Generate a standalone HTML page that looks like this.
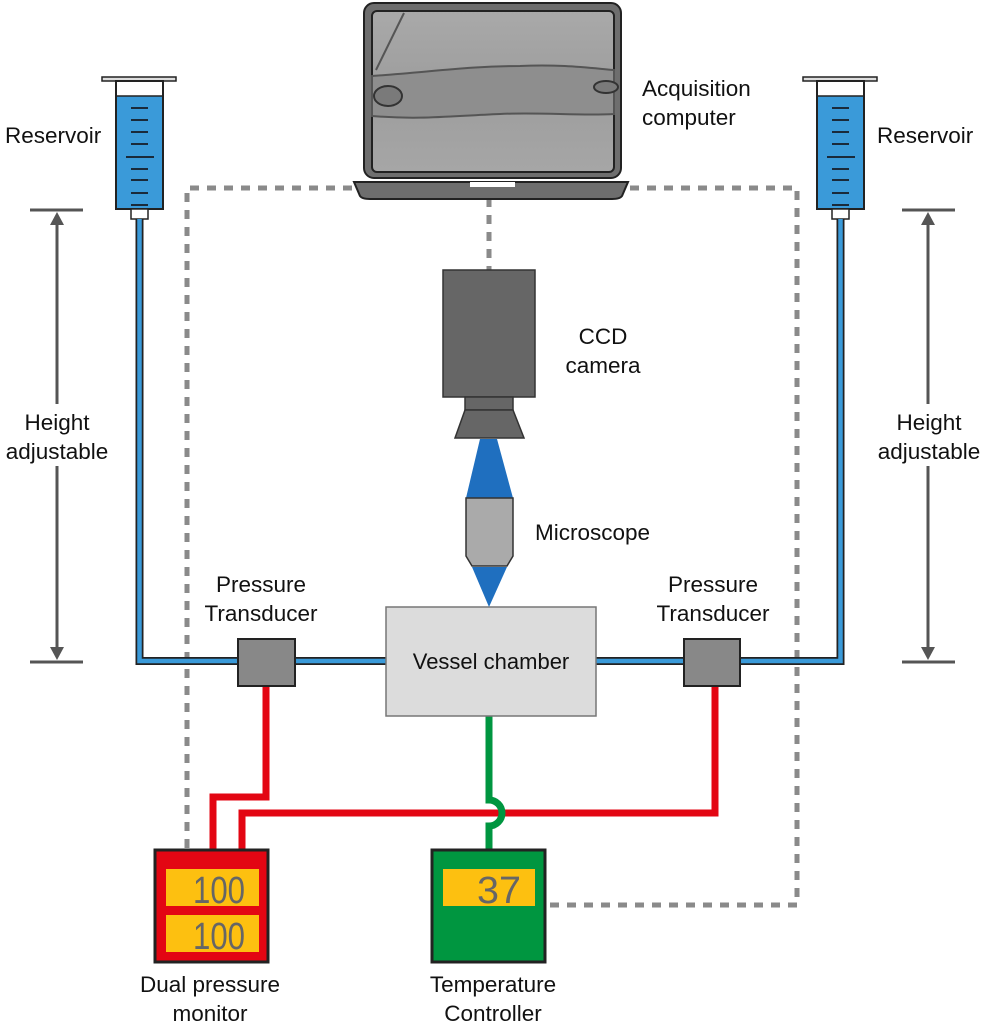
<!DOCTYPE html>
<html><head><meta charset="utf-8"><style>
html,body{margin:0;padding:0;background:#fff;}
svg{display:block;}
text{font-family:"Liberation Sans",sans-serif;fill:#111;}
</style></head><body>
<svg width="984" height="1024" viewBox="0 0 984 1024" xmlns="http://www.w3.org/2000/svg">
<defs>
<linearGradient id="scr" x1="0" y1="0" x2="0" y2="1">
<stop offset="0" stop-color="#a9a9a9"/><stop offset="0.5" stop-color="#9d9d9d"/><stop offset="1" stop-color="#a6a6a6"/>
</linearGradient>
</defs>
<g stroke="#8a8a8a" stroke-width="5" fill="none" stroke-dasharray="9 8">
<path d="M187 848 V188 H352"/>
<path d="M630 188 H797 V905 H545"/>
<path d="M489 198 V270"/>
</g>
<rect x="364" y="3" width="257" height="175" rx="10" fill="#6e6e6e" stroke="#222" stroke-width="2"/>
<rect x="372" y="11" width="242" height="161" rx="5" fill="url(#scr)" stroke="#222" stroke-width="2"/>
<path d="M372 76 C430 72 470 66 520 66 C560 64 590 68 614 70 L614 114 C580 116 540 112 500 114 C450 116 420 120 372 116 Z" fill="#8e8e8e" stroke="#555" stroke-width="2"/>
<path d="M376 70 L404 13" stroke="#555" stroke-width="2" fill="none"/>
<ellipse cx="388" cy="96" rx="14" ry="10" fill="#7a7a7a" stroke="#333" stroke-width="2"/>
<ellipse cx="606" cy="87" rx="12" ry="6" fill="#7a7a7a" stroke="#333" stroke-width="2"/>
<path d="M354 182 H628 L622 196 Q620 199 612 199 H370 Q362 199 360 196 Z" fill="#6e6e6e" stroke="#222" stroke-width="2"/>
<rect x="470" y="182" width="45" height="5" fill="#fff"/>
<g id="res">
<rect x="102" y="77" width="74" height="4" fill="#ddd" stroke="#222" stroke-width="1.5"/>
<rect x="116" y="81" width="47" height="128" fill="#fff" stroke="#222" stroke-width="2"/>
<rect x="117" y="96" width="45" height="112" fill="#3a9ad9"/>
<line x1="116" y1="96" x2="163" y2="96" stroke="#222" stroke-width="1.5"/>
<rect x="131" y="209" width="17" height="10" fill="#fff" stroke="#222" stroke-width="1.5"/>
<g stroke="#1a2a3a" stroke-width="2">
<line x1="131" y1="108" x2="148" y2="108"/><line x1="131" y1="120" x2="148" y2="120"/>
<line x1="131" y1="132" x2="148" y2="132"/><line x1="131" y1="144" x2="148" y2="144"/>
<line x1="126" y1="157" x2="154" y2="157"/><line x1="131" y1="169" x2="148" y2="169"/>
<line x1="131" y1="180" x2="148" y2="180"/><line x1="131" y1="193" x2="148" y2="193"/>
<line x1="131" y1="205" x2="148" y2="205"/>
</g>
</g>
<use href="#res" transform="translate(701,0)"/>
<g fill="none">
<path d="M139.5 219 V661 H238 M295 661 H386" stroke="#222" stroke-width="8"/>
<path d="M139.5 219 V661 H238 M295 661 H386" stroke="#3a9ad9" stroke-width="4.5"/>
<path d="M596 661 H684 M740 661 H840.5 V219" stroke="#222" stroke-width="8"/>
<path d="M596 661 H684 M740 661 H840.5 V219" stroke="#3a9ad9" stroke-width="4.5"/>
</g>
<g stroke="#e30613" stroke-width="7" fill="none">
<path d="M266 686 V797 H213 V850"/>
<path d="M242 850 V813 H715 V686"/>
</g>
<path d="M489 716 V800 A13 13 0 0 1 489 826 V850" stroke="#009640" stroke-width="7" fill="none"/>
<rect x="238" y="639" width="57" height="47" fill="#888" stroke="#222" stroke-width="2"/>
<rect x="684" y="639" width="56" height="47" fill="#888" stroke="#222" stroke-width="2"/>
<rect x="386" y="607" width="210" height="109" fill="#dcdcdc" stroke="#777" stroke-width="1.5"/>
<text x="491" y="669" font-size="22" text-anchor="middle">Vessel chamber</text>
<rect x="443" y="270" width="92" height="127" fill="#666" stroke="#333" stroke-width="1.5"/>
<rect x="465" y="397" width="48" height="13" fill="#666" stroke="#333" stroke-width="1.5"/>
<path d="M465 410 H513 L524 438 H455 Z" fill="#666" stroke="#333" stroke-width="1.5"/>
<path d="M480 439 H497 L513 498 H466 Z" fill="#1f6fbf"/>
<path d="M466 498 H513 V556 L507 566 H472 L466 556 Z" fill="#aaa" stroke="#333" stroke-width="1.5"/>
<path d="M472 567 H507 L489 607 Z" fill="#1f6fbf"/>
<g stroke="#555" stroke-width="3" fill="#555">
<line x1="30" y1="210" x2="83" y2="210"/><line x1="30" y1="662" x2="83" y2="662"/>
<line x1="57" y1="225" x2="57" y2="404"/><line x1="57" y1="466" x2="57" y2="648"/>
<path d="M57 212 L50 225 H64 Z" stroke="none"/><path d="M57 660 L50 647 H64 Z" stroke="none"/>
<line x1="902" y1="210" x2="955" y2="210"/><line x1="902" y1="662" x2="955" y2="662"/>
<line x1="928" y1="225" x2="928" y2="404"/><line x1="928" y1="466" x2="928" y2="648"/>
<path d="M928 212 L921 225 H935 Z" stroke="none"/><path d="M928 660 L921 647 H935 Z" stroke="none"/>
</g>
<rect x="155" y="850" width="113" height="112" fill="#e30613" stroke="#222" stroke-width="3"/>
<rect x="166" y="869" width="93" height="37" fill="#fdc010"/>
<rect x="166" y="915" width="93" height="37" fill="#fdc010"/>
<text x="245" y="903" font-size="38" text-anchor="end" style="fill:#666" textLength="52" lengthAdjust="spacingAndGlyphs">100</text>
<text x="245" y="949" font-size="38" text-anchor="end" style="fill:#666" textLength="52" lengthAdjust="spacingAndGlyphs">100</text>
<rect x="432" y="850" width="113" height="112" fill="#009640" stroke="#222" stroke-width="3"/>
<rect x="443" y="869" width="92" height="37" fill="#fdc010"/>
<text x="521" y="903" font-size="38" text-anchor="end" style="fill:#666" textLength="44" lengthAdjust="spacingAndGlyphs">37</text>
<g font-size="22.5">
<text x="642" y="96">Acquisition</text><text x="642" y="125">computer</text>
<text x="603" y="344" text-anchor="middle">CCD</text><text x="603" y="373" text-anchor="middle">camera</text>
<text x="535" y="540">Microscope</text>
<text x="261" y="592" text-anchor="middle">Pressure</text><text x="261" y="621" text-anchor="middle">Transducer</text>
<text x="713" y="592" text-anchor="middle">Pressure</text><text x="713" y="621" text-anchor="middle">Transducer</text>
<text x="5" y="143">Reservoir</text><text x="877" y="143">Reservoir</text>
<text x="57" y="430" text-anchor="middle">Height</text><text x="57" y="459" text-anchor="middle">adjustable</text>
<text x="929" y="430" text-anchor="middle">Height</text><text x="929" y="459" text-anchor="middle">adjustable</text>
<text x="210" y="992" text-anchor="middle">Dual pressure</text><text x="210" y="1021" text-anchor="middle">monitor</text>
<text x="493" y="992" text-anchor="middle">Temperature</text><text x="493" y="1021" text-anchor="middle">Controller</text>
</g>
</svg>
</body></html>
